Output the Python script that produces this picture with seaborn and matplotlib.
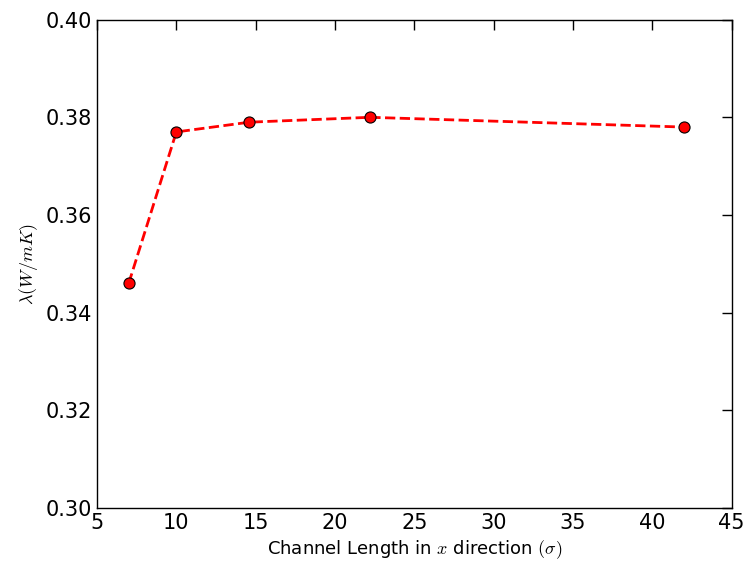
import matplotlib
matplotlib.use("Agg")
import matplotlib.pyplot as plt
import seaborn as sns
import pandas as pd

channel_length = [7.0, 10.0, 14.6, 22.2, 42.0]
conductivity = [0.346, 0.377, 0.379, 0.380, 0.378]

df = pd.DataFrame({"L": channel_length, "k": conductivity})

sns.set_style("white")
plt.rcParams["mathtext.fontset"] = "cm"
plt.rcParams["text.color"] = "black"
plt.rcParams["axes.labelcolor"] = "black"
plt.rcParams["xtick.color"] = "black"
plt.rcParams["ytick.color"] = "black"

fig, ax = plt.subplots(figsize=(7.52, 5.79), dpi=100)
fig.subplots_adjust(left=0.129, right=0.973, top=0.966, bottom=0.123)

sns.lineplot(data=df, x="L", y="k", ax=ax, color="red", linestyle="--",
             linewidth=2, marker="o", markersize=8, markerfacecolor="red",
             markeredgecolor="black", markeredgewidth=0.8)

ax.set_xlim(5, 45)
ax.set_ylim(0.30, 0.40)
ax.set_xticks(range(5, 46, 5))
ax.set_yticks([0.30, 0.32, 0.34, 0.36, 0.38, 0.40])
ax.set_yticklabels(["0.30", "0.32", "0.34", "0.36", "0.38", "0.40"])
ax.tick_params(direction="in", top=True, right=True, length=7, width=1,
               labelsize=15, colors="black")
for s in ax.spines.values():
    s.set_color("black")
    s.set_linewidth(1)
ax.set_xlabel(r"Channel Length in $x$ direction $(\sigma)$", fontsize=13)
ax.set_ylabel(r"$\lambda(W/mK)$", fontsize=13)

fig.savefig("out.png", dpi=100)
